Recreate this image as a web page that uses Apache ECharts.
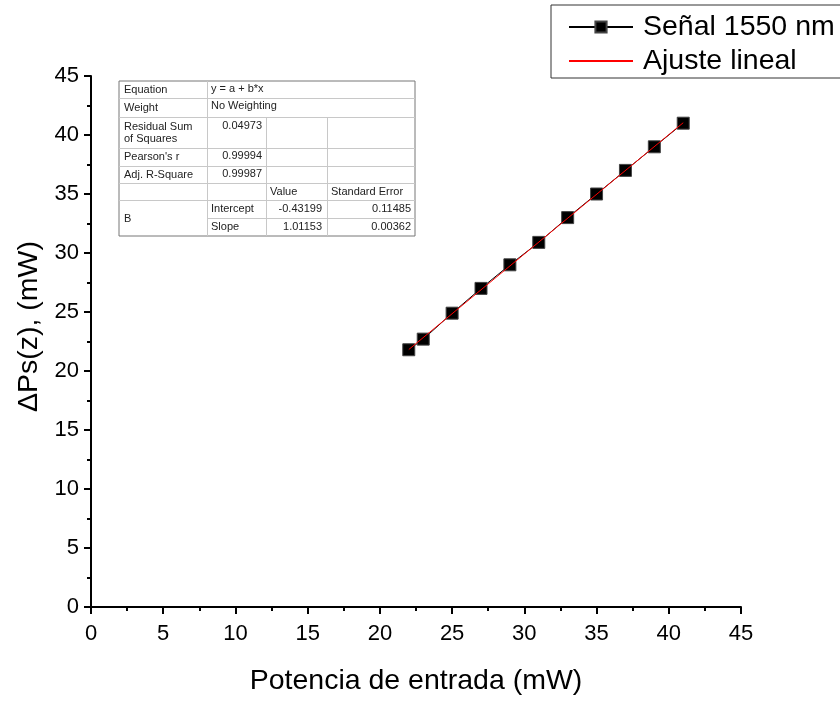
<!DOCTYPE html>
<html><head><meta charset="utf-8">
<script src="https://cdn.jsdelivr.net/npm/echarts@6/dist/echarts.min.js"></script>
<style>html,body{margin:0;padding:0;background:#fff}#c{width:840px;height:701px}</style>
</head><body><div id="c"></div>
<script>
const xValues = [22, 23, 25, 27, 29, 31, 33, 35, 37, 39, 41];
const yValues = [21.8, 22.7, 24.9, 27.0, 29.0, 30.9, 33.0, 35.0, 37.0, 39.0, 41.0];
const fitX = [22, 41];
const fitY = [21.82, 41.04];
const seriesNames = ['Señal 1550 nm', 'Ajuste lineal'];
const xTitle = 'Potencia de entrada (mW)';
const yTitle = 'ΔPs(z), (mW)';
const tableRows = [
  ['Equation', 'y = a + b*x', '', ''],
  ['Weight', 'No Weighting', '', ''],
  ['Residual Sum\nof Squares', '0.04973', '', ''],
  ["Pearson's r", '0.99994', '', ''],
  ['Adj. R-Square', '0.99987', '', ''],
  ['', '', 'Value', 'Standard Error'],
  ['B', 'Intercept', '-0.43199', '0.11485'],
  ['', 'Slope', '1.01153', '0.00362']
];

const chart = echarts.init(document.getElementById('c'), null, {renderer: 'canvas'});
const F = '"Liberation Sans", Arial, sans-serif';

// table geometry
const colX = [119, 207, 266, 327, 415];
const rowY = [81, 98, 117, 148, 166, 183, 200, 218, 236];
const light = '#c8c8c8', dark = '#777';
const g = [];
g.push({type:'rect', shape:{x:colX[0], y:rowY[0], width:colX[4]-colX[0], height:rowY[8]-rowY[0]}, style:{fill:'#fff', stroke:dark, lineWidth:1}, z:10});
function hl(y, x1, x2){ g.push({type:'line', shape:{x1:x1, y1:y+0.5, x2:x2, y2:y+0.5}, style:{stroke:light, lineWidth:1}, z:11}); }
function vl(x, y1, y2){ g.push({type:'line', shape:{x1:x+0.5, y1:y1, x2:x+0.5, y2:y2}, style:{stroke:light, lineWidth:1}, z:11}); }
for (let i = 1; i < 8; i++) {
  if (i === 7) hl(rowY[i], colX[1], colX[4]); else hl(rowY[i], colX[0], colX[4]);
}
vl(colX[1], rowY[0], rowY[8]);
vl(colX[2], rowY[2], rowY[8]);
vl(colX[3], rowY[2], rowY[8]);
function txt(s, x, y, align){ g.push({type:'text', x:x, y:y, style:{text:s, fill:'#222', font:'11px '+F, textAlign:align||'left', textVerticalAlign:'middle', lineHeight:12}, z:12}); }
tableRows.forEach((r, i) => {
  const y0 = rowY[i], y1 = rowY[i+1];
  let ym = (y0 + y1) / 2;
  if (i === 2) { txt(r[0], 124, ym); txt(r[1], 262, y0 + 9, 'right'); return; }
  if (i === 6) { txt(r[0], 124, rowY[8] - (rowY[8]-rowY[6])/2 + 1); }
  else if (r[0]) txt(r[0], 124, ym);
  if (i <= 1) { txt(r[1], 211, y0 + 8); return; }
  if (i >= 6) { txt(r[1], 211, ym); txt(r[2], 322, ym, 'right'); txt(r[3], 411, ym, 'right'); return; }
  if (i === 5) { txt(r[2], 270, ym); txt(r[3], 331, ym); return; }
  txt(r[1], 262, y0 + 8, 'right');
});

chart.setOption({
  animation: false,
  backgroundColor: '#fff',
  grid: {left: 91, right: 99, top: 76, bottom: 89, containLabel: false},
  legend: {
    orient: 'vertical', left: 551, top: 5,
    padding: [6, 30, 1, 17], itemGap: 2,
    itemWidth: 64, itemHeight: 14,
    borderColor: '#333', borderWidth: 1,
    textStyle: {fontFamily: F, fontSize: 28.5, color: '#000', lineHeight: 32, padding: [0, 0, 0, 5]},
    data: [
      {name: seriesNames[0]},
      {name: seriesNames[1], itemStyle: {opacity: 0}}
    ]
  },
  xAxis: {
    type: 'value', min: 0, max: 45, interval: 5,
    name: xTitle, nameLocation: 'middle', nameGap: 60,
    nameTextStyle: {fontFamily: F, fontSize: 28.5, color: '#000'},
    axisLine: {show: true, onZero: false, lineStyle: {color: '#000', width: 2}},
    axisTick: {show: true, inside: false, length: 7, lineStyle: {color: '#000', width: 2}},
    minorTick: {show: true, splitNumber: 2, length: 4, lineStyle: {color: '#000', width: 2}},
    axisLabel: {fontFamily: F, fontSize: 22, color: '#000', margin: 16},
    splitLine: {show: false}
  },
  yAxis: {
    type: 'value', min: 0, max: 45, interval: 5,
    name: yTitle, nameLocation: 'middle', nameGap: 42,
    nameTextStyle: {fontFamily: F, fontSize: 28.5, color: '#000', padding: [0, 0, 0, 30]},
    axisLine: {show: true, onZero: false, lineStyle: {color: '#000', width: 2}},
    axisTick: {show: true, inside: false, length: 7, lineStyle: {color: '#000', width: 2}},
    minorTick: {show: true, splitNumber: 2, length: 4, lineStyle: {color: '#000', width: 2}},
    axisLabel: {fontFamily: F, fontSize: 22, color: '#000', margin: 12},
    splitLine: {show: false}
  },
  graphic: g,
  series: [
    {
      name: seriesNames[0], type: 'line',
      data: xValues.map((x, i) => [x, yValues[i]]),
      symbol: 'rect', symbolSize: 12,
      itemStyle: {color: '#000', borderColor: '#444', borderWidth: 1},
      lineStyle: {color: '#000', width: 1}, z: 2
    },
    {
      name: seriesNames[1], type: 'line',
      data: fitX.map((x, i) => [x, fitY[i]]),
      symbol: 'none', showSymbol: false,
      itemStyle: {color: '#ff0000'},
      lineStyle: {color: '#ff0000', width: 1}, z: 3
    }
  ]
});
</script></body></html>
